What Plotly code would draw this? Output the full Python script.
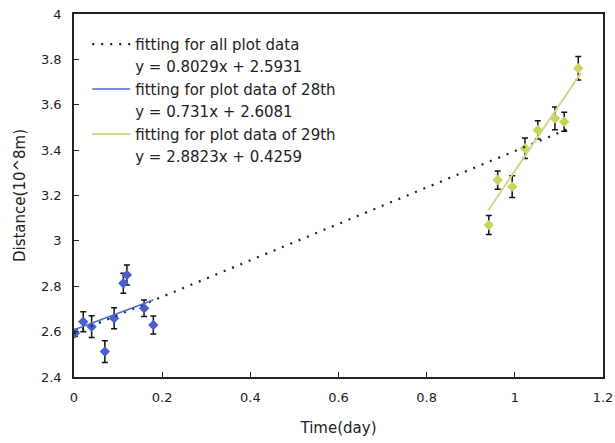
import plotly.graph_objects as go

# ---- data ----
x28 = [0.002, 0.021, 0.040, 0.070, 0.091, 0.112, 0.120, 0.159, 0.180]
y28 = [2.593, 2.644, 2.622, 2.512, 2.659, 2.813, 2.850, 2.703, 2.629]
e28 = [0.015, 0.044, 0.048, 0.048, 0.046, 0.044, 0.044, 0.036, 0.040]

x29 = [0.941, 0.961, 0.994, 1.023, 1.052, 1.091, 1.112, 1.144]
y29 = [3.070, 3.268, 3.239, 3.408, 3.489, 3.540, 3.525, 3.761]
e29 = [0.042, 0.040, 0.048, 0.045, 0.040, 0.050, 0.042, 0.052]

fit_all = (0.8029, 2.5931)
fit28 = (0.731, 2.6081)
fit29 = (2.8823, 0.4259)
fit_all_range = [0.0, 1.13]
fit28_range = [0.0, 0.18]
fit29_range = [0.94, 1.15]

names = ["fitting for all plot data", "y = 0.8029x + 2.5931",
         "fitting for plot data of 28th", "y = 0.731x + 2.6081",
         "fitting for plot data of 29th", "y = 2.8823x + 0.4259"]

x_ticks = [0, 0.2, 0.4, 0.6, 0.8, 1, 1.2]
y_ticks = [2.4, 2.6, 2.8, 3.0, 3.2, 3.4, 3.6, 3.8, 4.0]
y_tick_text = ["2.4", "2.6", "2.8", "3", "3.2", "3.4", "3.6", "3.8", "4"]


def line(fit, rng):
    a, b = fit
    return rng, [a * v + b for v in rng]


FONT = "DejaVu Sans"
fig = go.Figure()

err_style = dict(type="data", color="#111111", thickness=1.5, width=3)

# data points
fig.add_trace(go.Scatter(x=x28, y=y28, mode="markers", showlegend=False,
                         error_y=dict(array=e28, **err_style),
                         marker=dict(symbol="diamond", size=8, color="#4a5ed0",
                                     line=dict(width=0))))
fig.add_trace(go.Scatter(x=x29, y=y29, mode="markers", showlegend=False,
                         error_y=dict(array=e29, **err_style),
                         marker=dict(symbol="diamond", size=8, color="#c9d45a",
                                     line=dict(width=0))))

# fit lines
lx, ly = line(fit_all, fit_all_range)
fig.add_trace(go.Scatter(x=lx, y=ly, mode="lines", name=names[0],
                         line=dict(color="#1a1f3a", width=2.2, dash="2px,7px")))
fig.add_trace(go.Scatter(x=[None], y=[None], mode="lines", name=names[1],
                         line=dict(color="rgba(0,0,0,0)", width=0)))
lx, ly = line(fit28, fit28_range)
fig.add_trace(go.Scatter(x=lx, y=ly, mode="lines", name=names[2],
                         line=dict(color="#4a6cc4", width=1.5)))
fig.add_trace(go.Scatter(x=[None], y=[None], mode="lines", name=names[3],
                         line=dict(color="rgba(0,0,0,0)", width=0)))
lx, ly = line(fit29, fit29_range)
fig.add_trace(go.Scatter(x=lx, y=ly, mode="lines", name=names[4],
                         line=dict(color="#cfd98a", width=2)))
fig.add_trace(go.Scatter(x=[None], y=[None], mode="lines", name=names[5],
                         line=dict(color="rgba(0,0,0,0)", width=0)))

axis_common = dict(showline=True, linecolor="#222222", linewidth=1.5, mirror=True,
                   ticks="inside", ticklen=5, tickcolor="#222222", showgrid=False,
                   zeroline=False, automargin=False, ticklabeloverflow="allow",
                   tickfont=dict(family=FONT, size=13, color="#222222"))

fig.update_layout(
    width=615, height=443,
    margin=dict(l=74, r=12, t=14, b=66),
    paper_bgcolor="white", plot_bgcolor="white",
    font=dict(family=FONT, color="#222222"),
    xaxis=dict(range=[0, 1.2], tickvals=x_ticks, ticktext=[str(v) for v in x_ticks],
               ticklabelstandoff=8,
               title=dict(text="Time(day)", font=dict(family=FONT, size=15), standoff=18),
               **axis_common),
    yaxis=dict(range=[2.4, 4.0], tickvals=y_ticks, ticktext=y_tick_text,
               ticklabelstandoff=8,
               title=dict(text="Distance(10^8m)", font=dict(family=FONT, size=15), standoff=12),
               **axis_common),
    legend=dict(x=0.025, y=0.962, xanchor="left", yanchor="top", itemwidth=38,
                bgcolor="rgba(255,255,255,0)", font=dict(family=FONT, size=15, color="#222222"),
                traceorder="normal"),
)

# remove the browser's default 8px page margin so the 615x443 figure fills the window
fig.write_html("out.html", config={"displayModeBar": False},
               post_script="document.body.style.margin='0';document.body.style.overflow='hidden';")
